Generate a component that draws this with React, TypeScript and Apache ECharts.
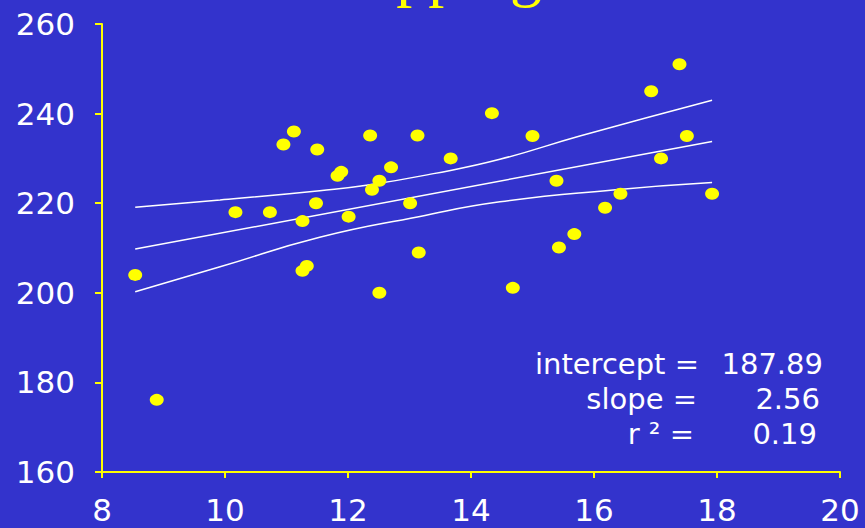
import React, { useEffect, useRef } from "react";
import * as echarts from "echarts";

// Observations
const xValues = [
  8.54, 8.89, 10.17, 10.73, 10.95, 11.12, 11.26, 11.26, 11.33, 11.48, 11.5, 11.83,
  11.89, 12.01, 12.36, 12.39, 12.51, 12.51, 12.7, 13.01, 13.13, 13.15, 13.67, 14.34,
  14.68, 15.0, 15.39, 15.43, 15.68, 16.18, 16.43, 16.93, 17.09, 17.39, 17.51, 17.92,
];
const yValues = [
  204.0, 176.1, 218.0, 218.0, 233.1, 236.0, 216.0, 204.9, 206.0, 220.0, 232.0, 226.1,
  227.0, 217.0, 235.1, 223.0, 225.0, 200.0, 228.0, 220.0, 235.1, 209.0, 230.0, 240.1,
  201.1, 235.0, 225.0, 210.1, 213.1, 219.0, 222.1, 245.0, 230.0, 251.0, 235.0, 222.1,
];

// Fitted line statistics
const fitIntercept = 187.89;
const fitSlope = 2.56;
const fitR2 = 0.19;

// Confidence band for the fitted mean
const upperBandX = [8.54, 9.92, 11.54, 12.3, 13.39, 14.47, 15.77, 17.92];
const upperBandY = [219.1, 220.7, 222.8, 224.0, 226.6, 229.8, 235.0, 243.0];
const lowerBandX = [8.54, 9.92, 11.54, 13.15, 14.47, 16.31, 17.92];
const lowerBandY = [200.25, 205.8, 212.4, 217.0, 220.3, 222.95, 224.6];

// Axis ticks
const xAxisRange = { min: 8, max: 20, step: 2 };
const yAxisRange = { min: 160, max: 260, step: 20 };

const titleText = "Hopping";

const BG = "#3333cc";
const YELLOW = "#ffff00";
const WHITE = "#ffffff";
const SANS = "DejaVu Sans";

export default function App() {
  const ref = useRef<HTMLDivElement>(null);

  useEffect(() => {
    if (!ref.current) return;
    const chart = echarts.init(ref.current, undefined, { renderer: "svg" });

    const points = xValues.map((x, i) => [x, yValues[i]]);
    const xMin = Math.min(...xValues);
    const xMax = Math.max(...xValues);
    const fitLine = [
      [xMin, fitIntercept + fitSlope * xMin],
      [xMax, fitIntercept + fitSlope * xMax],
    ];
    const upper = upperBandX.map((x, i) => [x, upperBandY[i]]);
    const lower = lowerBandX.map((x, i) => [x, lowerBandY[i]]);

    const lineStyle = { color: WHITE, width: 1.5 };
    const statFont = { fill: WHITE, fontFamily: SANS, fontSize: 29, verticalAlign: "middle" as const, align: "right" as const };

    chart.setOption({
      animation: false,
      backgroundColor: BG,
      grid: { left: 102, right: 25, top: 24, bottom: 56, containLabel: false },
      xAxis: {
        type: "value",
        min: xAxisRange.min,
        max: xAxisRange.max,
        interval: xAxisRange.step,
        axisLine: { show: true, lineStyle: { color: YELLOW, width: 2 } },
        axisTick: { show: true, length: 6, lineStyle: { color: YELLOW, width: 2 } },
        splitLine: { show: false },
        axisLabel: { color: WHITE, fontFamily: SANS, fontSize: 31, margin: 22 },
      },
      yAxis: {
        type: "value",
        min: yAxisRange.min,
        max: yAxisRange.max,
        interval: yAxisRange.step,
        axisLine: { show: true, lineStyle: { color: YELLOW, width: 2 } },
        axisTick: { show: true, length: 7, lineStyle: { color: YELLOW, width: 2 } },
        splitLine: { show: false },
        axisLabel: { color: WHITE, fontFamily: SANS, fontSize: 31, margin: 27 },
      },
      series: [
        { type: "line", data: upper, smooth: true, showSymbol: false, lineStyle, z: 2 },
        { type: "line", data: fitLine, showSymbol: false, lineStyle, z: 2 },
        { type: "line", data: lower, smooth: true, showSymbol: false, lineStyle, z: 2 },
        {
          type: "scatter",
          data: points,
          symbol: "circle",
          symbolSize: [14, 12],
          itemStyle: { color: YELLOW, opacity: 1 },
          z: 3,
        },
      ],
      graphic: [
        {
          type: "text",
          left: 318,
          top: -60,
          style: { text: titleText, fill: YELLOW, fontFamily: "Liberation Serif", fontSize: 64 },
        },
        { type: "text", x: 699, y: 364, style: { ...statFont, text: "intercept =" } },
        { type: "text", x: 823, y: 364, style: { ...statFont, text: fitIntercept.toFixed(2) } },
        { type: "text", x: 697, y: 399, style: { ...statFont, text: "slope =" } },
        { type: "text", x: 820, y: 399, style: { ...statFont, text: fitSlope.toFixed(2) } },
        { type: "text", x: 694, y: 434, style: { ...statFont, text: "r \u00b2 =" } },
        { type: "text", x: 817, y: 434, style: { ...statFont, text: fitR2.toFixed(2) } },
      ],
    });

    return () => chart.dispose();
  }, []);

  return (
    <div
      ref={ref}
      style={{ position: "absolute", left: 0, top: 0, width: 865, height: 528 }}
    />
  );
}
